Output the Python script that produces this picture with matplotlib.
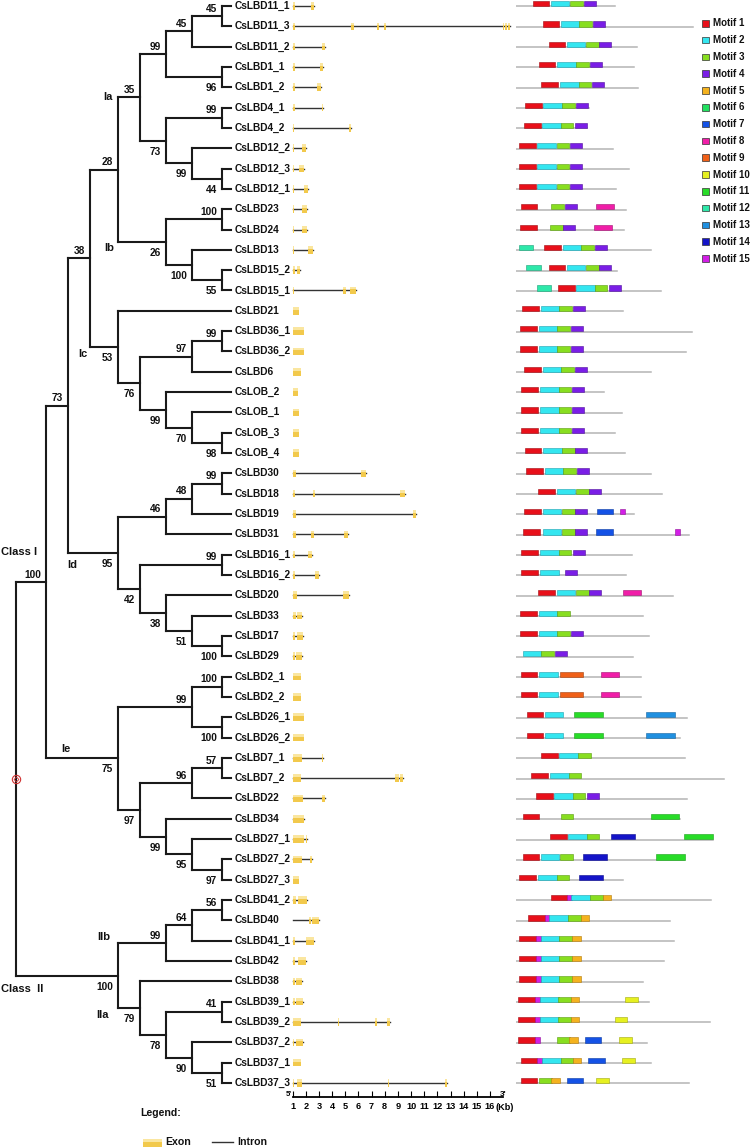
import matplotlib
matplotlib.use('Agg')
import matplotlib.pyplot as plt
from matplotlib.patches import Rectangle

plt.rcParams['font.family'] = ['Liberation Sans', 'DejaVu Sans']

# ---------------- data ----------------
GENES = ['CsLBD11_1', 'CsLBD11_3', 'CsLBD11_2', 'CsLBD1_1', 'CsLBD1_2', 'CsLBD4_1', 'CsLBD4_2',
         'CsLBD12_2', 'CsLBD12_3', 'CsLBD12_1', 'CsLBD23', 'CsLBD24', 'CsLBD13', 'CsLBD15_2',
         'CsLBD15_1', 'CsLBD21', 'CsLBD36_1', 'CsLBD36_2', 'CsLBD6', 'CsLOB_2', 'CsLOB_1',
         'CsLOB_3', 'CsLOB_4', 'CsLBD30', 'CsLBD18', 'CsLBD19', 'CsLBD31', 'CsLBD16_1',
         'CsLBD16_2', 'CsLBD20', 'CsLBD33', 'CsLBD17', 'CsLBD29', 'CsLBD2_1', 'CsLBD2_2',
         'CsLBD26_1', 'CsLBD26_2', 'CsLBD7_1', 'CsLBD7_2', 'CsLBD22', 'CsLBD34', 'CsLBD27_1',
         'CsLBD27_2', 'CsLBD27_3', 'CsLBD41_2', 'CsLBD40', 'CsLBD41_1', 'CsLBD42', 'CsLBD38',
         'CsLBD39_1', 'CsLBD39_2', 'CsLBD37_2', 'CsLBD37_1', 'CsLBD37_3']

# tree: (bootstrap, column, children, clade-name)
TREE = ('', 0, [
    ('100', 1, [
        ('73', 2, [
            ('38', 3, [
                ('28', 4, [
                    ('35', 5, [
                        ('99', 6, [
                            ('45', 7, [('45', 8, ['CsLBD11_1', 'CsLBD11_3']), 'CsLBD11_2']),
                            ('96', 8, ['CsLBD1_1', 'CsLBD1_2'])]),
                        ('73', 6, [
                            ('99', 8, ['CsLBD4_1', 'CsLBD4_2']),
                            ('99', 7, ['CsLBD12_2', ('44', 8, ['CsLBD12_3', 'CsLBD12_1'])])])], 'Ia'),
                    ('26', 6, [
                        ('100', 8, ['CsLBD23', 'CsLBD24']),
                        ('100', 7, ['CsLBD13', ('55', 8, ['CsLBD15_2', 'CsLBD15_1'])])], 'Ib')]),
                ('53', 4, [
                    'CsLBD21',
                    ('76', 5, [
                        ('97', 7, [('99', 8, ['CsLBD36_1', 'CsLBD36_2']), 'CsLBD6']),
                        ('99', 6, ['CsLOB_2', ('70', 7, ['CsLOB_1', ('98', 8, ['CsLOB_3', 'CsLOB_4'])])])])], 'Ic')]),
            ('95', 4, [
                ('46', 6, [('48', 7, [('99', 8, ['CsLBD30', 'CsLBD18']), 'CsLBD19']), 'CsLBD31']),
                ('42', 5, [('99', 8, ['CsLBD16_1', 'CsLBD16_2']),
                           ('38', 6, ['CsLBD20', ('51', 7, ['CsLBD33', ('100', 8, ['CsLBD17', 'CsLBD29'])])])])], 'Id')]),
        ('75', 4, [
            ('99', 7, [('100', 8, ['CsLBD2_1', 'CsLBD2_2']), ('100', 8, ['CsLBD26_1', 'CsLBD26_2'])]),
            ('97', 5, [
                ('96', 7, [('57', 8, ['CsLBD7_1', 'CsLBD7_2']), 'CsLBD22']),
                ('99', 6, ['CsLBD34', ('95', 7, ['CsLBD27_1', ('97', 8, ['CsLBD27_2', 'CsLBD27_3'])])])])], 'Ie')],
     'Class I'),
    ('100', 4, [
        ('99', 6, [('64', 7, [('56', 8, ['CsLBD41_2', 'CsLBD40']), 'CsLBD41_1']), 'CsLBD42'], 'IIb'),
        ('79', 5, [
            'CsLBD38',
            ('78', 6, [('41', 8, ['CsLBD39_1', 'CsLBD39_2']),
                       ('90', 7, ['CsLBD37_2', ('51', 8, ['CsLBD37_1', 'CsLBD37_3'])])])], 'IIa')],
     'Class  II')])

# exon (start, end) in kb on the gene-structure scale
EXONS = [
    [(1.00, 1.17), (2.39, 2.60)],
    [(1.00, 1.17), (5.42, 5.65), (7.39, 7.54), (7.94, 8.10), (16.97, 17.07), (17.17, 17.27), (17.37, 17.52)],
    [(1.00, 1.17), (3.21, 3.46)],
    [(1.00, 1.17), (3.08, 3.33)],
    [(1.00, 1.17), (2.87, 3.13)],
    [(1.00, 1.15), (3.21, 3.33)],
    [(1.00, 1.12), (5.30, 5.43)],
    [(1.00, 1.12), (1.71, 1.99)],
    [(1.00, 1.12), (1.50, 1.88)],
    [(1.00, 1.12), (1.86, 2.16)],
    [(1.00, 1.12), (1.71, 2.06)],
    [(1.00, 1.12), (1.71, 2.06)],
    [(1.00, 1.12), (2.14, 2.52)],
    [(1.00, 1.17), (1.35, 1.56)],
    [(1.00, 1.10), (4.80, 5.05), (5.36, 5.79)],
    [(1.00, 1.50)],
    [(1.00, 1.86)],
    [(1.00, 1.86)],
    [(1.00, 1.63)],
    [(1.00, 1.38)],
    [(1.00, 1.50)],
    [(1.00, 1.48)],
    [(1.00, 1.50)],
    [(1.00, 1.25), (6.19, 6.55)],
    [(1.00, 1.15), (2.57, 2.72), (9.18, 9.52)],
    [(1.00, 1.25), (10.13, 10.38)],
    [(1.00, 1.25), (2.37, 2.62), (4.90, 5.18)],
    [(1.00, 1.20), (2.16, 2.44)],
    [(1.00, 1.17), (2.67, 2.98)],
    [(1.00, 1.30), (4.80, 5.26)],
    [(1.00, 1.23), (1.30, 1.73)],
    [(1.00, 1.20), (1.30, 1.76)],
    [(1.00, 1.17), (1.25, 1.68)],
    [(1.00, 1.61)],
    [(1.00, 1.61)],
    [(1.00, 1.86)],
    [(1.00, 1.86)],
    [(1.00, 1.68), (3.23, 3.33)],
    [(1.00, 1.61), (8.78, 8.91), (8.95, 9.08), (9.16, 9.37)],
    [(1.00, 1.76), (3.23, 3.43)],
    [(1.00, 1.68), (1.71, 1.86)],
    [(1.00, 1.86), (1.99, 2.09)],
    [(1.00, 1.71), (2.34, 2.44)],
    [(1.00, 1.50)],
    [(1.00, 1.23), (1.43, 2.06)],
    [(1.00, 1.05), (2.26, 2.41), (2.47, 3.02)],
    [(1.00, 1.15), (2.01, 2.62)],
    [(1.00, 1.15), (1.43, 2.01)],
    [(1.00, 1.17), (1.25, 1.71)],
    [(1.00, 1.17), (1.27, 1.76)],
    [(1.00, 1.61), (4.47, 4.54), (7.26, 7.39), (8.19, 8.40)],
    [(1.00, 1.10), (1.25, 1.76)],
    [(1.00, 1.61)],
    [(1.00, 1.10), (1.30, 1.71), (8.22, 8.35), (12.60, 12.76)],
]

# protein lengths (aa)
PROT_LEN = [148, 265, 182, 177, 183, 110, 107, 145, 169, 150, 165, 162, 203, 151, 217, 161, 264, 255,
            202, 132, 159, 148, 164, 202, 219, 177, 259, 174, 165, 235, 190, 200, 175, 187, 187, 257,
            246, 253, 312, 256, 246, 295, 252, 160, 292, 231, 237, 222, 190, 199, 291, 197, 202, 259]

# motif occurrences: (motif number, start aa)
MOTIFS = [
    [(1, 25), (2, 52), (3, 81), (4, 102)],
    [(1, 40), (2, 67), (3, 95), (4, 115)],
    [(1, 49), (2, 76), (3, 105), (4, 125)],
    [(1, 34), (2, 62), (3, 90), (4, 111)],
    [(1, 38), (2, 66), (3, 94), (4, 114)],
    [(1, 14), (2, 41), (3, 69), (4, 90)],
    [(1, 12), (2, 39), (3, 67), (4, 88)],
    [(1, 5), (2, 32), (3, 61), (4, 81)],
    [(1, 5), (2, 32), (3, 61), (4, 81)],
    [(1, 5), (2, 32), (3, 61), (4, 81)],
    [(1, 7), (3, 53), (4, 73), (8, 120)],
    [(1, 6), (3, 51), (4, 71), (8, 117)],
    [(12, 4), (1, 42), (2, 70), (3, 98), (4, 118)],
    [(12, 15), (1, 49), (2, 76), (3, 105), (4, 125)],
    [(12, 31), (1, 63), (2, 90), (3, 118), (4, 139)],
    [(1, 9), (2, 37), (3, 65), (4, 85)],
    [(1, 6), (2, 34), (3, 62), (4, 82)],
    [(1, 6), (2, 34), (3, 62), (4, 82)],
    [(1, 12), (2, 40), (3, 68), (4, 88)],
    [(1, 8), (2, 36), (3, 64), (4, 84)],
    [(1, 8), (2, 36), (3, 64), (4, 84)],
    [(1, 8), (2, 36), (3, 64), (4, 84)],
    [(1, 13), (2, 41), (3, 69), (4, 89)],
    [(1, 15), (2, 43), (3, 71), (4, 92)],
    [(1, 33), (2, 61), (3, 90), (4, 110)],
    [(1, 12), (2, 40), (3, 69), (4, 89), (7, 121), (15, 156)],
    [(1, 11), (2, 40), (3, 69), (4, 89), (7, 120), (15, 239)],
    [(1, 8), (2, 36), (3, 64), (4, 85)],
    [(1, 8), (2, 36), (4, 73)],
    [(1, 33), (2, 61), (3, 90), (4, 110), (8, 161)],
    [(1, 6), (2, 34), (3, 62)],
    [(1, 6), (2, 34), (3, 62), (4, 82)],
    [(2, 10), (3, 38), (4, 58)],
    [(1, 7), (2, 35), (9, 66), (8, 128)],
    [(1, 7), (2, 35), (9, 66), (8, 128)],
    [(1, 16), (2, 43), (11, 87), (13, 195)],
    [(1, 16), (2, 43), (11, 87), (13, 195)],
    [(1, 38), (2, 65), (3, 93)],
    [(1, 23), (2, 51), (3, 79)],
    [(1, 30), (2, 57), (3, 85), (4, 106)],
    [(1, 10), (3, 67), (11, 202)],
    [(1, 51), (2, 78), (3, 106), (14, 142), (11, 252)],
    [(1, 10), (2, 37), (3, 66), (14, 100), (11, 210)],
    [(1, 5), (2, 33), (3, 61), (14, 94)],
    [(1, 52), (15, 77), (2, 83), (3, 111), (5, 130)],
    [(1, 18), (15, 43), (2, 50), (3, 78), (5, 97)],
    [(1, 5), (15, 30), (2, 37), (3, 65), (5, 84)],
    [(1, 5), (15, 30), (2, 37), (3, 65), (5, 84)],
    [(1, 5), (15, 30), (2, 37), (3, 65), (5, 84)],
    [(1, 3), (15, 29), (2, 36), (3, 63), (5, 82), (10, 164)],
    [(1, 3), (15, 29), (2, 36), (3, 63), (5, 82), (10, 148)],
    [(1, 3), (15, 29), (3, 62), (5, 80), (7, 103), (10, 155)],
    [(1, 7), (15, 32), (2, 39), (3, 67), (5, 85), (7, 108), (10, 159)],
    [(1, 7), (3, 35), (5, 53), (7, 76), (10, 120)],
]

MOTIF_IDS = list(range(1, 16))
MOTIF_WIDTH = [25, 28, 19, 18, 13, 20, 25, 27, 35, 19, 43, 22, 43, 36, 7]
KB_TICKS = list(range(1, 17))

# ---------------- styles / layout ----------------
MOTIF_COLORS = ['#e8101a', '#34e6f0', '#88de20', '#7a1ee6', '#f4b21e', '#22e060', '#1452e6',
                '#f01ea8', '#f06018', '#e6f020', '#28dc28', '#2ee8aa', '#2090e0', '#1414c8', '#d21ee6']
MOTIF_EDGES = ['#a00a10', '#1aa0b0', '#5a9a10', '#50109a', '#b07a10', '#14a040', '#0a3aa0',
               '#a01070', '#a04010', '#a0a810', '#18a018', '#1aa078', '#1464a0', '#0a0a90', '#901098']

W, H = 750, 1148
ROW0, ROW_STEP = 6.0, 20.32
COL_X = [16, 46, 68, 90, 118, 140, 166, 192, 222]
TIP_X = 231
LINE_C = '#1a1a1a'
TREE_LW = 1.5
FS = 7.3
CLADE_OFF = {'Ia': (-10, 0), 'Ib': (-9, 5.5), 'Ic': (-7.5, 7), 'Id': (4.5, 12), 'Ie': (20, -9),
             'IIb': (-14.5, -6), 'IIa': (-15.5, 7), 'Class I': (None, -30), 'Class  II': (None, 13)}

KB_PX0, PX_PER_KB = 292.7, 13.15
KB_LIM = (0.0, 18.5)
AA_PX0, PX_PER_AA = 516.0, 1 / 1.5
AA_LIM = (0, 330)

fig = plt.figure(figsize=(W / 100, H / 100), dpi=100)
ax = fig.add_axes([0, 0, 1, 1])
ax.set_xlim(0, W)
ax.set_ylim(H, 0)
ax.axis('off')

g_left = KB_PX0 + KB_LIM[0] * PX_PER_KB - KB_PX0 * 0  # px of kb=KB_LIM[0]
g_left = KB_PX0 - (1 - KB_LIM[0]) * PX_PER_KB
g_width = (KB_LIM[1] - KB_LIM[0]) * PX_PER_KB
axg = fig.add_axes([g_left / W, 0, g_width / W, 1])
axg.set_xlim(*KB_LIM)
axg.set_ylim(H, 0)
axg.axis('off')

m_width = (AA_LIM[1] - AA_LIM[0]) * PX_PER_AA
axm = fig.add_axes([AA_PX0 / W, 0, m_width / W, 1])
axm.set_xlim(*AA_LIM)
axm.set_ylim(H, 0)
axm.axis('off')

row_y = {g: ROW0 + i * ROW_STEP for i, g in enumerate(GENES)}


def ny(n):
    if isinstance(n, str):
        return row_y[n]
    ys = [ny(c) for c in n[2]]
    return (ys[0] + ys[-1]) / 2


def nx(n):
    return TIP_X if isinstance(n, str) else COL_X[n[1]]


def draw(n):
    x = COL_X[n[1]]
    ys = [ny(c) for c in n[2]]
    ax.plot([x, x], [ys[0], ys[-1]], color=LINE_C, lw=TREE_LW, solid_capstyle='projecting')
    for k, c in enumerate(n[2]):
        cy, cx = ny(c), nx(c)
        ax.plot([x, cx], [cy, cy], color=LINE_C, lw=TREE_LW, solid_capstyle='projecting')
        if isinstance(c, str):
            ax.text(235, cy, c, fontsize=FS, fontweight='bold', ha='left', va='center', color='#111')
            continue
        draw(c)
        if c[0]:
            if k == 0:
                ax.text(cx - 5, cy - 4.5, c[0], fontsize=FS, fontweight='bold', ha='right',
                        va='baseline', color='#111')
            else:
                ax.text(cx - 5, cy + 14, c[0], fontsize=FS, fontweight='bold', ha='right',
                        va='baseline', color='#111')
        if len(c) > 3:
            name = c[3]
            dx, dy = CLADE_OFF[name]
            if dx is None:
                ax.text(1, cy + dy, name, fontsize=8, fontweight='bold', ha='left', va='center',
                        color='#111')
            else:
                ax.text(x + dx, cy + dy, name, fontsize=8, fontweight='bold', ha='center',
                        va='center', color='#111')


draw(TREE)
ry = ny(TREE)
ax.plot(COL_X[0], ry, marker='o', ms=6, mfc='none', mec='#d03030', mew=0.8)
ax.plot(COL_X[0], ry, marker='D', ms=2.5, mfc='none', mec='#d03030', mew=0.6)

# ---------------- gene structures ----------------
EXON_C, EXON_HI = '#f2c94c', '#fae6a0'
for g, ex in zip(GENES, EXONS):
    y = row_y[g]
    if len(ex) > 1:
        axg.plot([ex[0][0], ex[-1][1]], [y, y], color='#333333', lw=1.0, zorder=1)
    for s, e in ex:
        axg.add_patch(Rectangle((s, y - 3.8), e - s, 7.6, facecolor=EXON_C, edgecolor='none', zorder=2))
        axg.add_patch(Rectangle((s, y - 3.8), e - s, 2.8, facecolor=EXON_HI, edgecolor='none', zorder=3))

# scale bar
SCALE_Y = 1097
axs = fig.add_axes([g_left / W, 1 - SCALE_Y / H, g_width / W, 6 / H])
axs.set_xlim(*KB_LIM)
axs.patch.set_visible(False)
for sp in ['top', 'left', 'right']:
    axs.spines[sp].set_visible(False)
axs.spines['bottom'].set_bounds(KB_TICKS[0], KB_TICKS[-1] + 1)
axs.spines['bottom'].set_linewidth(1.3)
axs.set_yticks([])
axs.set_xticks(KB_TICKS)
axs.set_xticklabels([str(t) for t in KB_TICKS], fontsize=6.6, fontweight='bold')
axs.tick_params(axis='x', direction='in', length=4, width=0.8, pad=3.5)
axg.text(KB_TICKS[0] - 0.05, SCALE_Y - 1.5, "5'", fontsize=5.5, fontweight='bold', ha='right',
         va='baseline')
axg.text(KB_TICKS[-1] + 1, SCALE_Y - 1.5, "3'", fontsize=6, fontweight='bold', ha='center',
         va='baseline')
axg.text(KB_TICKS[-1] + 0.45, SCALE_Y + 10, "(Kb)", fontsize=6.6, fontweight='bold', ha='left',
         va='center')

# ---------------- motifs ----------------
for g, L, mots in zip(GENES, PROT_LEN, MOTIFS):
    y = row_y[g]
    axm.plot([0, L], [y + 0.4, y + 0.4], color='#b4b4b4', lw=1.1, zorder=1)
    for m, s in mots:
        i = MOTIF_IDS.index(m)
        axm.add_patch(Rectangle((s, y - 5.0), MOTIF_WIDTH[i], 5.2, facecolor=MOTIF_COLORS[i],
                                edgecolor=MOTIF_EDGES[i], lw=0.4, zorder=2))

# motif legend
for k, m in enumerate(MOTIF_IDS):
    yy = 23.3 + k * 16.8
    ax.add_patch(Rectangle((702, yy - 3.3), 6.6, 6.6, facecolor=MOTIF_COLORS[k],
                           edgecolor='#333333', lw=0.5))
    ax.text(713, yy, f'Motif {m}', fontsize=7, fontweight='bold', ha='left', va='center',
            color='#111')

# exon / intron legend
ax.text(140, 1113, 'Legend:', fontsize=7.6, fontweight='bold', ha='left', va='center', color='#111')
ax.add_patch(Rectangle((143, 1139), 19, 7.5, facecolor=EXON_C, edgecolor='none'))
ax.add_patch(Rectangle((143, 1139), 19, 2.8, facecolor=EXON_HI, edgecolor='none'))
ax.text(165, 1142, 'Exon', fontsize=7.6, fontweight='bold', ha='left', va='center', color='#111')
ax.plot([212, 233], [1141.5, 1141.5], color='#333333', lw=1.0)
ax.text(237, 1142, 'Intron', fontsize=7.6, fontweight='bold', ha='left', va='center', color='#111')

fig.savefig('out.png', dpi=100)
